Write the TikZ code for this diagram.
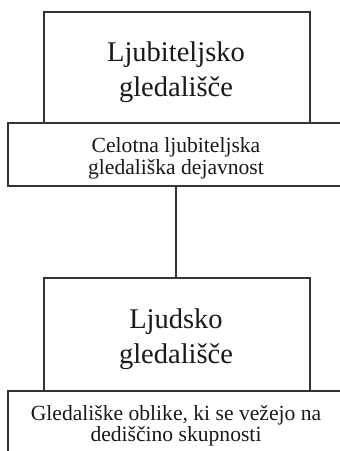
\documentclass[tikz,border=0pt]{standalone}
\usepackage{fontspec}
\setmainfont{Liberation Serif}
\begin{document}
\begin{tikzpicture}[x=1pt,y=1pt,
  frame/.style={draw=black!80,line width=1.3pt,rectangle,inner sep=0pt},
  big/.style={anchor=base,inner sep=0pt,font=\fontsize{28.5}{32}\selectfont,text=black!90},
  small/.style={anchor=base,inner sep=0pt,font=\fontsize{21.6}{25}\selectfont,text=black!90}]
\useasboundingbox (0,0) rectangle (340,451);
\clip (0,0) rectangle (340,451);
\fill[white] (0,0) rectangle (340,451);
% boxes
\node[frame,minimum width=266pt,minimum height=111pt] (b1) at (177,383.5) {};
\node[frame,minimum width=338pt,minimum height=63pt] (b2) at (177,296.5) {};
\node[frame,minimum width=266pt,minimum height=113pt] (b3) at (177,116.5) {};
\node[frame,minimum width=338pt,minimum height=80pt] (b4) at (177,20) {};
% connector
\draw[black!80,line width=1.3pt] (b2.south -| 176,0) -- (b3.north -| 176,0);
% texts
\node[big] (t1a) at (176,389) {Ljubiteljsko};
\node[big] (t1b) at (176,354.3) {gledališče};
\node[small] (t2a) at (176,298.3) {Celotna ljubiteljska};
\node[small] (t2b) at (176,276) {gledališka dejavnost};
\node[big] (t3a) at (176,122) {Ljudsko};
\node[big] (t3b) at (176,87.7) {gledališče};
\node[small] (t4a) at (176,30.3) {Gledališke oblike, ki se vežejo na};
\node[small] (t4b) at (176,9.3) {dediščino skupnosti};
\end{tikzpicture}
\end{document}
